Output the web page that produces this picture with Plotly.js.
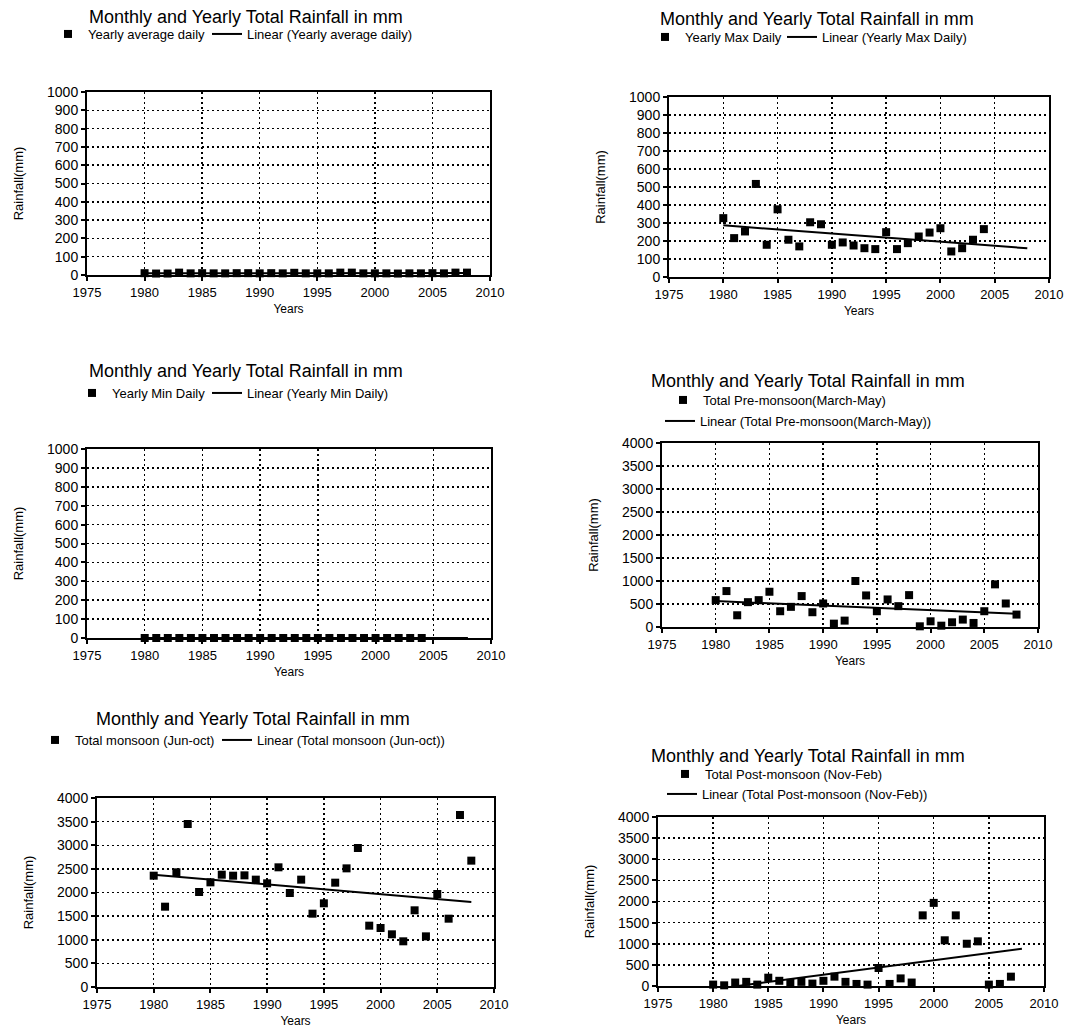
<!DOCTYPE html>
<html>
<head>
<meta charset="utf-8">
<script src="https://cdn.plot.ly/plotly-3.0.1.min.js"></script>
<style>
html,body{margin:0;padding:0;background:#fff;}
#chart{width:1091px;height:1032px;}
</style>
</head>
<body>
<div id="chart"></div>
<script>
// ---------------- DATA ----------------
const chartTitle = "Monthly and Yearly Total Rainfall in mm";
const xTitle = "Years";
const yTitle = "Rainfall(mm)";
const xTickVals = [1975, 1980, 1985, 1990, 1995, 2000, 2005, 2010];
const yTickValsSmall = [0, 100, 200, 300, 400, 500, 600, 700, 800, 900, 1000];
const yTickValsLarge = [0, 500, 1000, 1500, 2000, 2500, 3000, 3500, 4000];
const trendSpan = [1980, 2008];

const yearsAvg = [1980,1981,1982,1983,1984,1985,1986,1987,1988,1989,1990,1991,1992,1993,1994,1995,1996,1997,1998,1999,2000,2001,2002,2003,2004,2005,2006,2007,2008];
const avgDaily = [10,8,8,13,9,10,9,9,10,10,9,10,9,12,9,9,9,13,13,9,9,9,8,9,9,10,9,13,13];

const yearsMax = [1980,1981,1982,1983,1984,1985,1986,1987,1988,1989,1990,1991,1992,1993,1994,1995,1996,1997,1998,1999,2000,2001,2002,2003,2004];
const maxDaily = [327,216,253,517,179,376,207,170,304,293,179,192,175,160,155,249,155,188,225,247,271,142,160,207,266];

const yearsMin = [1980,1981,1982,1983,1984,1985,1986,1987,1988,1989,1990,1991,1992,1993,1994,1995,1996,1997,1998,1999,2000,2001,2002,2003,2004];
const minDaily = [0,0,0,0,0,0,0,0,0,0,0,0,0,0,0,0,0,0,0,0,0,0,0,0,0];

const yearsPre = [1980,1981,1982,1983,1984,1985,1986,1987,1988,1989,1990,1991,1992,1993,1994,1995,1996,1997,1998,1999,2000,2001,2002,2003,2004,2005,2006,2007,2008];
const preMonsoon = [584,781,255,540,584,766,343,438,672,321,511,73,139,1000,686,343,599,453,693,15,124,29,102,161,88,343,927,511,270];

const yearsMon = [1980,1981,1982,1983,1984,1985,1986,1987,1988,1989,1990,1991,1992,1993,1994,1995,1996,1997,1998,1999,2000,2001,2002,2003,2004,2005,2006,2007,2008];
const monsoon = [2356,1700,2427,3450,2011,2215,2377,2356,2363,2272,2194,2533,1989,2272,1552,1771,2208,2511,2942,1298,1249,1115,967,1623,1072,1968,1446,3640,2674];

const yearsPost = [1980,1981,1982,1983,1984,1985,1986,1987,1988,1989,1990,1991,1992,1993,1994,1995,1996,1997,1998,1999,2000,2001,2002,2003,2004,2005,2006,2007];
const postMonsoon = [33,16,82,98,33,197,123,74,98,57,123,221,98,49,33,426,49,180,82,1672,1967,1082,1672,1000,1057,33,49,221];

const seriesNames = ["Yearly average daily","Yearly Max Daily","Yearly Min Daily","Total Pre-monsoon(March-May)","Total monsoon (Jun-oct)","Total Post-monsoon (Nov-Feb)"];
const trendNames = ["Linear (Yearly average daily)","Linear (Yearly Max Daily)","Linear (Yearly Min Daily)","Linear (Total Pre-monsoon(March-May))","Linear (Total monsoon (Jun-oct))","Linear (Total Post-monsoon (Nov-Feb))"];

// ---------------- LAYOUT CONFIG ----------------
const W = 1091, H = 1032;
const FONT = "Liberation Sans, Arial, sans-serif";
const panels = [
  {x:yearsAvg, y:avgDaily, yt:yTickValsSmall, box:[87,490,92,275], title:[246,17],
   leg:[{x:48,y:34},{x:207,y:34}]},
  {x:yearsMax, y:maxDaily, yt:yTickValsSmall, box:[669,1049,97,277], title:[817,19],
   leg:[{x:645,y:37},{x:782,y:37}]},
  {x:yearsMin, y:minDaily, yt:yTickValsSmall, box:[87,491,449,638], title:[246,371],
   leg:[{x:72,y:393},{x:207,y:393}]},
  {x:yearsPre, y:preMonsoon, yt:yTickValsLarge, box:[662,1038,443,627], title:[808,381],
   leg:[{x:663,y:400},{x:660,y:421}]},
  {x:yearsMon, y:monsoon, yt:yTickValsLarge, box:[97,494,798,987], title:[253,719],
   leg:[{x:35,y:740},{x:217,y:740}]},
  {x:yearsPost, y:postMonsoon, yt:yTickValsLarge, box:[658,1044,817,986], title:[808,756],
   leg:[{x:665,y:774},{x:662,y:794}]}
];

function linFit(xs, ys) {
  const n = xs.length;
  let sx=0, sy=0, sxx=0, sxy=0;
  for (let i=0;i<n;i++){ sx+=xs[i]; sy+=ys[i]; sxx+=xs[i]*xs[i]; sxy+=xs[i]*ys[i]; }
  const b = (n*sxy - sx*sy)/(n*sxx - sx*sx);
  const a = (sy - b*sx)/n;
  return v => a + b*v;
}

const traces = [];
const layout = {
  width: W, height: H,
  margin: {l:0, r:0, t:0, b:0},
  paper_bgcolor: "#fff", plot_bgcolor: "#fff",
  font: {family: FONT, color: "#000", size: 13},
  showlegend: true,
  annotations: []
};

panels.forEach((p, i) => {
  const k = i + 1;
  const xa = k === 1 ? "x" : "x" + k;
  const ya = k === 1 ? "y" : "y" + k;
  const legA = (2*i+1) === 1 ? "legend" : "legend" + (2*i+1);
  const legB = "legend" + (2*i+2);
  const f = linFit(p.x, p.y);
  traces.push({
    type: "scatter", mode: "markers", x: p.x, y: p.y, xaxis: xa, yaxis: ya,
    name: seriesNames[i], legend: legA, cliponaxis: false,
    marker: {symbol: "square", size: 8, color: "#000"}
  });
  traces.push({
    type: "scatter", mode: "lines", x: trendSpan, y: trendSpan.map(f), xaxis: xa, yaxis: ya,
    name: trendNames[i], legend: legB,
    line: {color: "#000", width: 2}
  });
  const [l, r, t, b] = p.box;
  const axCommon = {
    showline: true, linecolor: "#000", linewidth: 2, mirror: true,
    ticks: "outside", ticklen: 4, tickwidth: 2, tickcolor: "#000",
    showgrid: true, gridcolor: "#000", gridwidth: 1.5, griddash: "2px,3px",
    zeroline: false, fixedrange: true
  };
  layout[k === 1 ? "xaxis" : "xaxis" + k] = Object.assign({}, axCommon, {
    domain: [l / W, r / W], anchor: ya, range: [1975, 2010],
    tickmode: "array", tickvals: xTickVals,
    tickfont: {size: 13, color: "#000", family: FONT},
    title: {text: xTitle, font: {size: 12, color: "#000", family: FONT}, standoff: 6}
  });
  const yt = p.yt;
  layout[k === 1 ? "yaxis" : "yaxis" + k] = Object.assign({}, axCommon, {
    domain: [1 - b / H, 1 - t / H], anchor: xa, range: [0, yt[yt.length-1]],
    tickmode: "array", tickvals: yt,
    tickfont: {size: 14, color: "#000", family: FONT},
    title: {text: yTitle, font: {size: 13, color: "#000", family: FONT}, standoff: 20}
  });
  layout.annotations.push({
    xref: "paper", yref: "paper", x: p.title[0] / W, y: 1 - p.title[1] / H,
    xanchor: "center", yanchor: "middle", showarrow: false,
    text: chartTitle, font: {size: 18, color: "#000", family: FONT}
  });
  [legA, legB].forEach((ln, j) => {
    layout[ln] = {
      x: p.leg[j].x / W, y: 1 - p.leg[j].y / H, xanchor: "left", yanchor: "middle",
      orientation: "h", bgcolor: "rgba(0,0,0,0)", borderwidth: 0,
      font: {size: 13, color: "#000", family: FONT}
    };
  });
});

Plotly.newPlot("chart", traces, layout, {displayModeBar: false, staticPlot: true});
</script>
</body>
</html>
